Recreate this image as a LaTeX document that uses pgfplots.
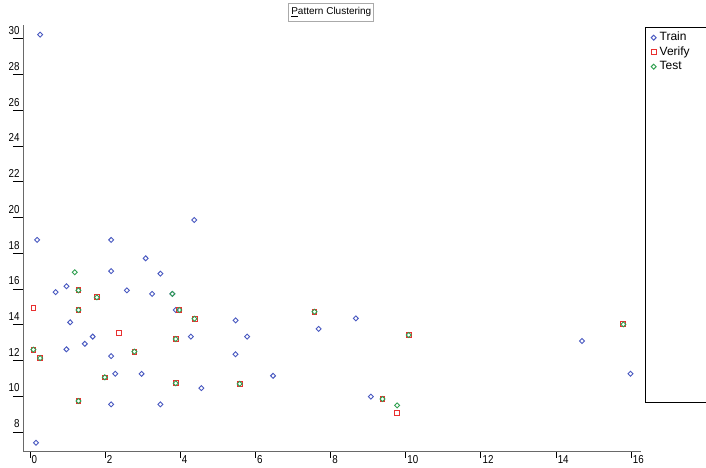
\documentclass[border=0pt]{standalone}
\usepackage{pgfplots}
\pgfplotsset{compat=1.18}
\usepackage{fontspec}
\setmainfont{Liberation Sans}
\newfontfamily\tickfont{Liberation Sans}[FakeStretch=0.85]
\definecolor{trainc}{RGB}{72,88,192}
\definecolor{verifyc}{RGB}{232,48,48}
\definecolor{testc}{RGB}{48,160,80}
\definecolor{axc}{RGB}{105,105,105}
\begin{document}
\begin{tikzpicture}
\useasboundingbox (-23.3bp,-16.3bp) rectangle (682.7bp,451.7bp);
\begin{axis}[
  at={(0,0)}, anchor=south west,
  scale only axis, width=617.7bp, height=426.7bp,
  xmin=-0.178, xmax=16.26, ymin=6.90, ymax=30.78,
  axis x line*=bottom, axis y line*=left,
  axis line style={-, draw=axc, line width=1.1bp},
  xtick={0,2,...,16}, ytick={8,10,...,30},
  tick align=outside,
  major tick length=10.5bp,
  xtick style={draw=black, line width=0.9bp, /pgfplots/major tick length=6bp},
  ytick style={draw=black, line width=0.9bp},
  /pgf/number format/assume math mode=true,
  tick label style={font=\tickfont\fontsize{11.5bp}{13bp}\selectfont},
  xticklabel style={anchor=north west, inner sep=0pt, xshift=1.5bp, yshift=7bp},
  yticklabel style={anchor=south east, inner sep=0pt, xshift=7bp, yshift=4bp},
  legend style={at={(1.0113,0.9906)}, anchor=north west, draw=none, fill=none,
     font=\fontsize{12bp}{13bp}\selectfont,
     nodes={inner sep=1bp, text height=8.5bp, text depth=2.5bp},
     row sep=1.5bp, column sep=2.5bp},
  legend cell align=left,
  legend image code/.code={\draw[#1, only marks] plot coordinates {(0bp,0bp)};},
  clip=false,
]
\addplot[only marks, mark=diamond, mark size=2.5bp, mark options={draw=trainc, line width=0.9bp, fill=none, xscale=1.33}] coordinates {
(0.27,30.24) (0.19,18.75) (0.16,7.40) (0.68,15.83) (2.16,18.75) (3.08,17.72)
(2.16,17.01) (3.47,16.86) (0.97,16.16) (2.58,15.93) (3.25,15.73) (3.79,15.73)
(3.88,14.83) (1.07,14.14) (1.67,13.34) (4.28,13.34) (1.46,12.94) (0.97,12.63)
(2.16,12.25) (2.27,11.26) (2.97,11.26) (2.16,9.55) (3.47,9.55) (4.37,19.87)
(5.47,14.25) (7.68,13.77) (5.78,13.34) (5.47,12.35) (6.47,11.15) (4.56,10.46)
(8.67,14.36) (9.07,9.98) (14.69,13.09) (15.98,11.26)
};
\addlegendentry{Train}
\addplot[only marks, mark=square, mark size=2.4bp, mark options={draw=verifyc, line width=0.9bp, fill=none}] coordinates {
(1.29,15.93) (1.78,15.54) (0.09,14.96) (1.29,14.83) (3.97,14.83) (4.38,14.34)
(2.37,13.56) (3.88,13.21) (0.09,12.61) (2.78,12.50) (0.27,12.14) (1.99,11.06)
(3.88,10.73) (1.29,9.74) (7.57,14.73) (5.58,10.70) (10.08,13.43) (9.38,9.85)
(9.77,9.05) (15.79,14.03)
};
\addlegendentry{Verify}
\addplot[only marks, mark=diamond, mark size=2.5bp, mark options={draw=testc, line width=0.9bp, fill=none, xscale=1.33}] coordinates {
(1.19,16.94) (1.29,15.93) (1.78,15.54) (3.79,15.73) (1.29,14.83) (3.97,14.83)
(4.38,14.34) (3.88,13.21) (0.09,12.61) (2.78,12.50) (0.27,12.14) (1.99,11.06)
(3.88,10.73) (1.29,9.74) (7.57,14.73) (5.58,10.70) (10.08,13.43) (9.38,9.85)
(9.77,9.49) (15.79,14.03)
};
\addlegendentry{Test}
\end{axis}
\draw[black, line width=0.9bp] (621.7bp,49.7bp) rectangle (700bp,424.7bp);
\node[draw={rgb,255:red,170;green,170;blue,170}, fill=white, line width=0.8bp,
  minimum width=85bp, minimum height=18bp, inner sep=1bp,
  font=\fontsize{10bp}{12bp}\selectfont] at (308bp,439.7bp) {\underline{P}attern Clustering};
\end{tikzpicture}
\end{document}
